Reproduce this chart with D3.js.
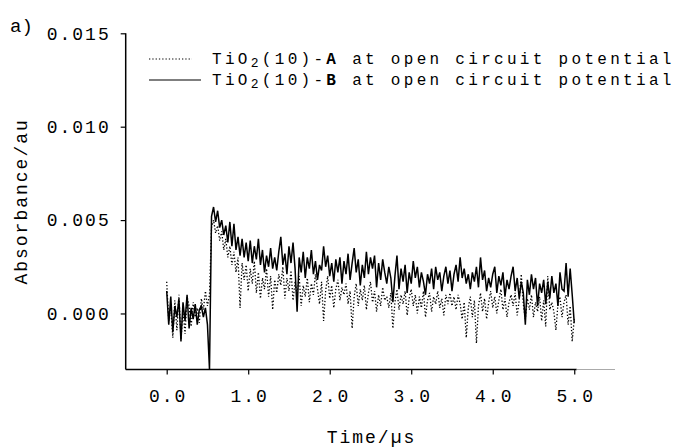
<!DOCTYPE html>
<html><head><meta charset="utf-8">
<script src="https://cdn.jsdelivr.net/npm/d3@7/dist/d3.min.js"></script>
<style>
body{margin:0;background:#fff;}
svg text{font-family:"Liberation Mono","Courier New",monospace;fill:#000;}
</style></head>
<body><svg id="c" width="685" height="448"></svg>
<script>
const xTicks = [0, 1, 2, 3, 4, 5];
const xTickLabels = ["0.0", "1.0", "2.0", "3.0", "4.0", "5.0"];
const yTicks = [0.000, 0.005, 0.010, 0.015];
const yTickLabels = ["0.000", "0.005", "0.010", "0.015"];
const dt = 0.025; // µs between samples, starting at t = 0
const seriesNames = ["A", "B"];

// TiO2(10)-A (dotted)
const seriesA = [
 0.0017,-0.0004,0.0003,-0.0013,0.0007,-0.0009,0.0010,-0.0014,0.0002,-0.0011,
 0.0009,0.0004,-0.0007,0.0006,-0.0002,0.0003,-0.0005,0.0008,0.0002,0.0012,
 0.0004,0.0010,0.0046,0.0050,0.0043,0.0047,0.0039,0.0044,0.0034,0.0040,
 0.0030,0.0036,0.0026,0.0033,0.0022,0.0030,0.0003,0.0027,0.0018,0.0026,
 0.0012,0.0024,0.0016,0.0028,0.0011,0.0022,0.0008,0.0019,0.0013,0.0024,
 0.0009,0.0020,0.0002,0.0018,0.0011,0.0021,0.0015,0.0025,0.0008,0.0019,
 0.0012,0.0023,0.0007,0.0017,0.0010,0.0020,0.0004,0.0015,0.0009,0.0019,
 0.0006,0.0016,0.0010,0.0021,0.0013,0.0005,0.0017,-0.0004,0.0012,0.0020,
 0.0008,0.0015,0.0003,0.0013,0.0018,0.0007,0.0014,0.0010,0.0016,0.0005,
 0.0012,-0.0008,0.0009,0.0016,0.0004,0.0013,0.0007,0.0015,0.0002,0.0011,
 0.0017,0.0006,0.0012,0.0001,0.0010,0.0004,0.0014,0.0007,0.0009,0.0003,
 0.0011,-0.0008,0.0006,0.0013,0.0002,0.0010,0.0005,0.0012,-0.0001,0.0008,
 0.0013,0.0004,0.0010,0.0000,0.0009,0.0003,0.0012,-0.0002,0.0007,0.0011,
 0.0001,0.0009,0.0005,0.0012,0.0003,0.0008,-0.0001,0.0010,0.0005,0.0011,
 0.0004,0.0009,0.0002,0.0010,0.0005,-0.0003,0.0006,-0.0013,0.0003,0.0009,
 -0.0002,0.0007,-0.0016,0.0004,0.0011,0.0001,0.0008,-0.0003,0.0006,0.0012,
 0.0003,0.0009,0.0000,0.0007,0.0013,0.0002,0.0008,-0.0002,0.0006,0.0010,
 0.0004,0.0011,-0.0001,0.0007,0.0021,0.0005,-0.0003,0.0008,0.0002,0.0010,
 -0.0002,0.0006,0.0001,0.0009,-0.0004,0.0007,-0.0007,0.0020,0.0002,0.0006,
 0.0001,-0.0009,0.0005,0.0009,-0.0002,0.0006,0.0010,-0.0006,0.0004,-0.0015,
 -0.0003
];

// TiO2(10)-B (solid)
const seriesB = [
 0.0012,-0.0006,0.0009,-0.0010,0.0004,-0.0002,0.0008,-0.0015,0.0006,-0.0004,
 0.0010,-0.0008,0.0003,-0.0003,0.0005,-0.0006,0.0002,0.0004,-0.0002,0.0003,
 -0.0006,-0.0030,0.0052,0.0057,0.0049,0.0055,0.0046,0.0050,0.0042,0.0047,
 0.0038,0.0049,0.0036,0.0048,0.0034,0.0041,0.0031,0.0040,0.0030,0.0038,
 0.0028,0.0039,0.0027,0.0036,0.0029,0.0040,0.0026,0.0034,0.0022,0.0031,
 0.0025,0.0035,0.0024,0.0030,0.0023,0.0033,0.0041,0.0026,0.0032,0.0021,
 0.0036,0.0027,0.0038,0.0024,0.0001,0.0030,0.0022,0.0033,0.0019,0.0030,
 0.0024,0.0034,0.0021,0.0028,0.0018,0.0026,0.0023,0.0036,0.0025,0.0031,
 0.0020,0.0027,0.0017,0.0029,0.0022,0.0030,0.0016,0.0028,0.0021,0.0032,
 0.0018,0.0027,0.0035,0.0022,0.0029,0.0015,0.0026,0.0019,0.0033,0.0021,
 0.0030,0.0024,0.0031,0.0014,0.0027,0.0018,0.0029,0.0022,0.0016,0.0025,
 0.0019,0.0006,0.0020,0.0031,0.0013,0.0024,0.0017,0.0026,0.0011,0.0022,
 0.0016,0.0028,0.0019,0.0025,0.0014,0.0022,0.0017,0.0010,0.0021,0.0016,
 0.0024,0.0013,0.0025,0.0018,0.0022,0.0012,0.0020,0.0025,0.0016,0.0023,
 0.0012,0.0021,0.0026,0.0017,0.0030,0.0019,0.0024,0.0016,0.0021,0.0013,
 0.0022,0.0017,0.0025,0.0014,0.0030,0.0018,0.0023,0.0012,0.0019,0.0014,
 0.0021,0.0025,0.0011,0.0020,0.0015,0.0022,0.0009,0.0018,0.0013,0.0020,
 0.0025,0.0012,0.0019,0.0008,0.0017,0.0011,-0.0006,0.0018,0.0010,0.0021,
 0.0013,0.0019,0.0004,0.0016,0.0011,0.0018,0.0005,0.0017,0.0008,0.0020,
 0.0011,0.0016,0.0004,0.0022,0.0013,0.0012,0.0027,0.0009,0.0024,0.0010,
 -0.0005
];

const svg = d3.select("#c");
const x = d3.scaleLinear().domain([-0.503, 5.5]).range([125.7, 615]);
const y = d3.scaleLinear().domain([-0.003, 0.015]).range([369.5, 33.3]);
const FS = 18;
const LS = "2px";

// axes
const yAxis = d3.axisLeft(y).tickValues(yTicks).tickSize(5).tickSizeOuter(0)
  .tickFormat((d, i) => yTickLabels[i]);
const gy = svg.append("g").attr("transform", `translate(${x(-0.503)},0)`).call(yAxis);
gy.select(".domain").remove();
gy.selectAll(".tick line").attr("stroke", "#000").attr("stroke-width", 1.2);
gy.selectAll(".tick text").attr("x", -15).style("font-size", FS + "px").style("letter-spacing", LS);
svg.append("line").attr("x1", x(-0.503)).attr("x2", x(-0.503)).attr("y1", y(0.015)).attr("y2", y(-0.003))
  .attr("stroke", "#000").attr("stroke-width", 1.5);

const xAxis = d3.axisBottom(x).tickValues(xTicks).tickSize(5).tickSizeOuter(0)
  .tickFormat((d, i) => xTickLabels[i]);
const gx = svg.append("g").attr("transform", `translate(0,${y(-0.003)})`).call(xAxis);
gx.select(".domain").remove();
gx.selectAll(".tick line").attr("stroke", "#000").attr("stroke-width", 1.2);
gx.selectAll(".tick text").attr("y", 20).attr("dx", 1).style("font-size", FS + "px").style("letter-spacing", LS);
svg.append("line").attr("x1", x(-0.503)).attr("x2", x(5.03)).attr("y1", y(-0.003)).attr("y2", y(-0.003))
  .attr("stroke", "#000").attr("stroke-width", 1.5);
svg.append("line").attr("x1", x(5.03)).attr("x2", x(5.5)).attr("y1", y(-0.003)).attr("y2", y(-0.003))
  .attr("stroke", "#aaa").attr("stroke-width", 1.2);

// series
const line = d3.line().x((d, i) => x(i * dt)).y(d => y(d));
svg.append("path").datum(seriesA).attr("d", line).attr("fill", "none")
  .attr("stroke", "#000").attr("stroke-width", 1.3).attr("stroke-dasharray", "1.3,2");
svg.append("path").datum(seriesB).attr("d", line).attr("fill", "none")
  .attr("stroke", "#000").attr("stroke-width", 1.5);

// titles
svg.append("text").attr("transform", `translate(22,${(y(0.015) + y(-0.003)) / 2}) rotate(-90)`)
  .attr("text-anchor", "middle").attr("dominant-baseline", "central")
  .style("font-size", FS + "px").style("letter-spacing", LS).text("Absorbance/au");
svg.append("text").attr("x", x(2.5) + 1).attr("y", 443).attr("text-anchor", "middle")
  .style("font-size", FS + "px").style("letter-spacing", LS).text("Time/µs");
svg.append("text").attr("x", 10).attr("y", 32).style("font-size", (FS + 1) + "px").text("a)");

// legend
const LFS = 16;
const leg = svg.append("g");
const rows = [{dash: "1.3,2", yy: 59, w: 43}, {dash: null, yy: 80, w: 52}];
rows.forEach((r, i) => {
  leg.append("line").attr("x1", 149).attr("x2", 149 + r.w).attr("y1", r.yy).attr("y2", r.yy)
    .attr("stroke", "#000").attr("stroke-width", 1.2).attr("stroke-dasharray", r.dash);
  const t = leg.append("text").attr("x", 212).attr("y", r.yy + 5)
    .style("font-size", LFS + "px").style("letter-spacing", "3.3px");
  t.append("tspan").text("TiO");
  t.append("tspan").attr("dy", 3).style("font-size", (LFS - 3) + "px").text("2");
  t.append("tspan").attr("dy", -3).text("(10)-");
  t.append("tspan").style("font-weight", "bold").text(seriesNames[i]);
  t.append("tspan").text(" at open circuit potential");
});
</script></body></html>
